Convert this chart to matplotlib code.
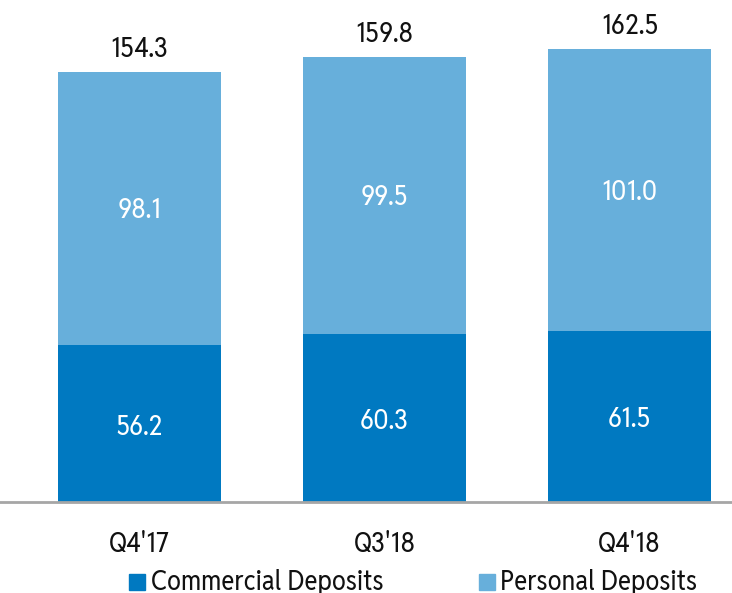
import matplotlib
matplotlib.use("Agg")
import matplotlib.pyplot as plt
from matplotlib.patches import Rectangle

categories = ["Q4'17", "Q3'18", "Q4'18"]
commercial = [56.2, 60.3, 61.5]
personal = [98.1, 99.5, 101.0]
totals = [154.3, 159.8, 162.5]

dark_blue = "#0079C1"
light_blue = "#67AFDB"
text_color = "#111111"
fs = 20

plt.rcParams['font.family'] = ['Reddit Sans Condensed', 'Open Sans', 'DejaVu Sans']

fig = plt.figure(figsize=(7.32, 5.93), dpi=100)
ax = fig.add_axes([0.0, 91 / 593, 1.0, 502 / 593])

x = list(range(len(categories)))
w = 0.665
ax.bar(x, commercial, width=w, color=dark_blue)
ax.bar(x, personal, width=w, bottom=commercial, color=light_blue)

for i in x:
    ax.text(i, commercial[i] / 2 - 1.2, f"{commercial[i]:.1f}", ha="center", va="center",
            color="white", fontsize=fs)
    ax.text(i, commercial[i] + personal[i] / 2 - 0.8, f"{personal[i]:.1f}", ha="center",
            va="center", color="white", fontsize=fs)
    ax.text(i, totals[i] + 3.2, f"{totals[i]:.1f}", ha="center", va="bottom",
            color=text_color, fontsize=fs)

ax.set_xlim(-0.5 - 17 / 245, 2.418)
ax.set_ylim(0, 180.1)
for s in ["top", "right", "left"]:
    ax.spines[s].set_visible(False)
ax.spines["bottom"].set_color("#A6A6A6")
ax.spines["bottom"].set_linewidth(2)
ax.set_yticks([])
ax.set_xticks(x)
ax.set_xticklabels(categories, fontsize=fs, color=text_color)
ax.tick_params(axis="x", length=0, pad=21)

# legend
fig.patches.append(Rectangle((129 / 732, (593 - 590) / 593), 16 / 732, 16 / 593,
                             transform=fig.transFigure, color=dark_blue))
fig.text(151 / 732, (593 - 582) / 593, "Commercial Deposits", fontsize=fs,
         color=text_color, va="center", ha="left")
fig.patches.append(Rectangle((479 / 732, (593 - 590) / 593), 16 / 732, 16 / 593,
                             transform=fig.transFigure, color=light_blue))
fig.text(500 / 732, (593 - 582) / 593, "Personal Deposits", fontsize=fs,
         color=text_color, va="center", ha="left")

fig.savefig("out.png", dpi=100)
